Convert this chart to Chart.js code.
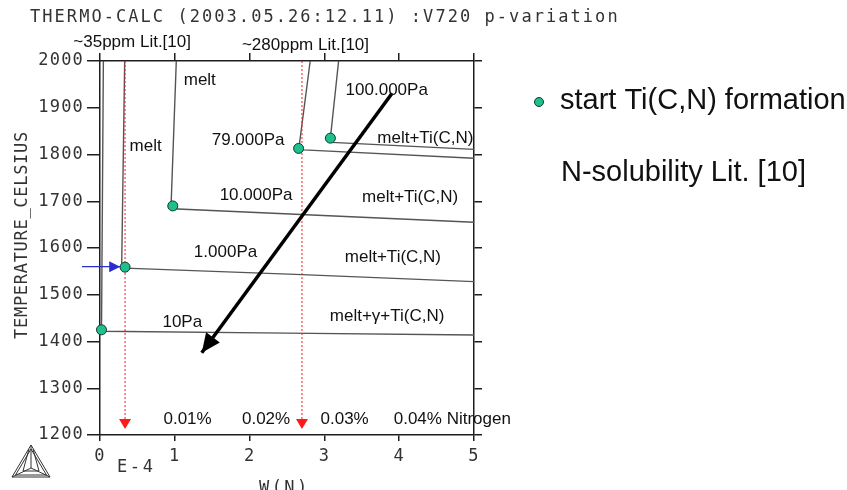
<!DOCTYPE html>
<html>
<head>
<meta charset="utf-8">
<script src="https://cdn.jsdelivr.net/npm/chart.js@4.4.0/dist/chart.umd.min.js"></script>
<style>
  html, body { margin: 0; padding: 0; background: #fff; }
  #wrap { width: 847px; height: 490px; }
</style>
</head>
<body>
<div id="wrap"><canvas id="c" width="847" height="490"></canvas></div>
<script>
// W(N) in units of 1E-4, temperature in degrees Celsius

// Phase boundaries for each nitrogen partial pressure
const p10X = [0.045, 0.02, 2.5, 5];
const p10T = [2000, 1422, 1418, 1414];
const p1000X = [0.33, 0.29, 0.335, 2.7, 5];
const p1000T = [2000, 1562, 1557, 1543, 1528];
const p10000X = [1.02, 0.95, 0.97, 5];
const p10000T = [2000, 1690, 1684, 1655];
const p79000X = [2.81, 2.66, 2.72, 5];
const p79000T = [2000, 1815, 1810, 1792];
const p100000X = [3.19, 3.08, 3.10, 5];
const p100000T = [2000, 1835, 1826, 1811];

// Start of Ti(C,N) formation
const startX = [0.02, 0.335, 0.973, 2.655, 3.08];
const startT = [1425, 1559, 1690, 1813, 1835];

// Nitrogen solubility from literature (~35 ppm and ~280 ppm)
const litX = [0.335, 2.7];
const litT = [2000, 1213];

// Direction of the pressure change
const trendX = [3.905, 1.36];
const trendT = [1931, 1376];

// Marker pointing at the 1.000Pa start temperature
const markX = [-0.24, 0.27];
const markT = [1560, 1560];

// Axis ticks
const xTicks = [0, 1, 2, 3, 4, 5];
const yTicks = [1200, 1300, 1400, 1500, 1600, 1700, 1800, 1900, 2000];

const pts = (xs, ts) => xs.map((x, i) => ({ x: x, y: ts[i] }));

const MONO = "'DejaVu Sans Mono', monospace";
const SANS = "'Liberation Sans', Arial, sans-serif";
const LINE = '#555';
const AXIS = '#1e1e1e';

// Annotations placed in data units
const regionLabels = [
  ['melt', 1.334, 1959],
  ['melt', 0.61, 1817],
  ['79.000Pa', 1.98, 1831],
  ['100.000Pa', 3.833, 1938],
  ['10.000Pa', 2.086, 1713],
  ['1.000Pa', 1.678, 1591],
  ['10Pa', 1.10, 1442],
  ['melt+Ti(C,N)', 4.35, 1835],
  ['melt+Ti(C,N)', 4.146, 1708],
  ['melt+Ti(C,N)', 3.916, 1580],
  ['melt+\u03b3+Ti(C,N)', 3.838, 1453]
];
const pctLabels = [
  ['0.01%', 1.171, 'center'],
  ['0.02%', 2.22, 'center'],
  ['0.03%', 3.27, 'center'],
  ['0.04% Nitrogen', 3.927, 'left']
];
const litLabels = [
  ['~35ppm Lit.[10]', -0.357, 2041],
  ['~280ppm Lit.[10]', 1.897, 2034]
];

function boundary(xs, ts) {
  return {
    data: pts(xs, ts), showLine: true, borderColor: LINE, borderWidth: 1.4,
    pointRadius: 0, fill: false, order: 4, clip: false
  };
}

// Mono text with wide spacing, like the plotter font
function monoText(ctx, str, x, y, size, spacing, align) {
  ctx.save();
  ctx.font = size + 'px ' + MONO;
  ctx.letterSpacing = spacing + 'px';
  ctx.fillStyle = '#333';
  ctx.textAlign = align || 'left';
  ctx.textBaseline = 'middle';
  ctx.fillText(str, x, y);
  ctx.restore();
}

const spacingPlugin = {
  id: 'spacing',
  beforeDraw(chart) { chart.ctx.letterSpacing = '1.2px'; },
  beforeDatasetsDraw(chart) { chart.ctx.letterSpacing = '0px'; }
};

const arrowPlugin = {
  id: 'arrowHeads',
  afterDatasetsDraw(chart) {
    const ctx = chart.ctx;
    chart.data.datasets.forEach((ds, i) => {
      if (!ds.head) return;
      const el = chart.getDatasetMeta(i).data;
      const a = el[el.length - 2], b = el[el.length - 1];
      const ang = Math.atan2(b.y - a.y, b.x - a.x);
      ctx.save();
      ctx.fillStyle = ds.borderColor;
      ctx.translate(b.x, b.y);
      ctx.rotate(ang);
      ctx.beginPath();
      ctx.moveTo(0, 0);
      ctx.lineTo(-ds.head.len, ds.head.half);
      ctx.lineTo(-ds.head.len, -ds.head.half);
      ctx.closePath();
      ctx.fill();
      ctx.restore();
    });
  }
};

const annotationPlugin = {
  id: 'annotations',
  afterDraw(chart) {
    const ctx = chart.ctx;
    const xs = chart.scales.x, ys = chart.scales.y;
    ctx.save();
    ctx.letterSpacing = '0px';
    ctx.fillStyle = '#111';
    ctx.textBaseline = 'middle';
    ctx.font = '17px ' + SANS;
    ctx.textAlign = 'center';
    regionLabels.forEach(([t, x, y]) => ctx.fillText(t, xs.getPixelForValue(x), ys.getPixelForValue(y)));
    pctLabels.forEach(([t, x, al]) => {
      ctx.textAlign = al;
      ctx.fillText(t, xs.getPixelForValue(x), ys.getPixelForValue(1234));
    });
    ctx.textAlign = 'left';
    litLabels.forEach(([t, x, y]) => ctx.fillText(t, xs.getPixelForValue(x), ys.getPixelForValue(y)));

    // legend
    ctx.font = '29px ' + SANS;
    ctx.textBaseline = 'alphabetic';
    ctx.fillText('start Ti(C,N) formation', 560, 109);
    ctx.fillText('N-solubility Lit. [10]', 561, 181);
    ctx.beginPath();
    ctx.arc(539, 102, 4.5, 0, Math.PI * 2);
    ctx.fillStyle = '#1fbf8e';
    ctx.fill();
    ctx.strokeStyle = '#0d3b2c';
    ctx.lineWidth = 1;
    ctx.stroke();
    ctx.restore();

    // plotter-font captions
    monoText(ctx, 'THERMO-CALC (2003.05.26:12.11) :V720 p-variation', 30, 18, 17, 2.05);
    monoText(ctx, 'E-4', 117, 468, 17, 2.6);
    monoText(ctx, 'W(N)', 259, 489, 17, 2.4);
    ctx.save();
    ctx.translate(23, 235);
    ctx.rotate(-Math.PI / 2);
    monoText(ctx, 'TEMPERATURE_CELSIUS', 0, 0, 17, 0.7, 'center');
    ctx.restore();

    // program logo
    ctx.save();
    ctx.strokeStyle = '#333';
    ctx.lineWidth = 1;
    const A = [31, 445], B = [12, 477], C = [50, 477], M = [31, 468];
    const tri = (p, q, r) => { ctx.beginPath(); ctx.moveTo(p[0], p[1]); ctx.lineTo(q[0], q[1]); ctx.lineTo(r[0], r[1]); ctx.closePath(); ctx.stroke(); };
    tri(A, B, C);
    tri([31, 449], [15.5, 475], [46.5, 475]);
    ctx.beginPath();
    ctx.moveTo(A[0], A[1]); ctx.lineTo(M[0], M[1]);
    ctx.moveTo(B[0], B[1]); ctx.lineTo(M[0], M[1]);
    ctx.moveTo(C[0], C[1]); ctx.lineTo(M[0], M[1]);
    ctx.moveTo(29, 449); ctx.lineTo(23, 471); ctx.lineTo(39, 471); ctx.lineTo(33, 449);
    ctx.stroke();
    ctx.restore();
  }
};

const tickFont = { family: MONO, size: 17 };
const plain = v => String(v);

new Chart(document.getElementById('c'), {
  type: 'scatter',
  data: {
    datasets: [
      {
        label: 'start Ti(C,N) formation', data: pts(startX, startT),
        pointRadius: 5, pointHoverRadius: 5, pointBackgroundColor: '#1fbf8e',
        pointBorderColor: '#0d3b2c', pointBorderWidth: 1, showLine: false, order: 0, clip: false
      },
      {
        label: 'pressure', data: pts(trendX, trendT), showLine: true, borderColor: '#000',
        borderWidth: 3.5, pointRadius: 0, order: 1, head: { len: 19, half: 8.5 }, clip: false
      },
      {
        label: 'marker', data: pts(markX, markT), showLine: true, borderColor: '#2c2cd2',
        borderWidth: 1.3, pointRadius: 0, order: 1, head: { len: 11, half: 5.5 }, clip: false
      },
      {
        label: '~35ppm', data: pts([litX[0], litX[0]], litT), showLine: true, borderColor: '#ff1a1a',
        borderWidth: 1, borderDash: [2, 2], pointRadius: 0, order: 2, head: { len: 10, half: 6 }, clip: false
      },
      {
        label: '~280ppm', data: pts([litX[1], litX[1]], litT), showLine: true, borderColor: '#ff1a1a',
        borderWidth: 1, borderDash: [2, 2], pointRadius: 0, order: 2, head: { len: 10, half: 6 }, clip: false
      },
      Object.assign(boundary(p10X, p10T), { label: '10Pa' }),
      Object.assign(boundary(p1000X, p1000T), { label: '1.000Pa' }),
      Object.assign(boundary(p10000X, p10000T), { label: '10.000Pa' }),
      Object.assign(boundary(p79000X, p79000T), { label: '79.000Pa' }),
      Object.assign(boundary(p100000X, p100000T), { label: '100.000Pa' })
    ]
  },
  options: {
    responsive: false,
    animation: false,
    devicePixelRatio: 1,
    layout: { padding: { left: 0, top: 53, right: 365, bottom: 0 } },
    plugins: { legend: { display: false }, tooltip: { enabled: false } },
    scales: {
      x: {
        type: 'linear', position: 'bottom', min: 0, max: 5,
        afterBuildTicks: s => { s.ticks = xTicks.map(v => ({ value: v })); },
        grid: { drawOnChartArea: false, drawTicks: true, tickLength: 6, color: AXIS, lineWidth: 1.5 },
        border: { color: AXIS, width: 1.5 },
        ticks: { color: '#333', font: tickFont, padding: 5, maxRotation: 0, autoSkip: false, callback: plain },
        afterFit: s => { s.height = 55; }
      },
      xTop: {
        type: 'linear', position: 'top', min: 0, max: 5,
        afterBuildTicks: s => { s.ticks = xTicks.map(v => ({ value: v })); },
        grid: { drawOnChartArea: false, drawTicks: true, tickLength: 8, color: AXIS, lineWidth: 1.5 },
        border: { color: AXIS, width: 1.5 },
        ticks: { display: false },
        afterFit: s => { s.height = 8; }
      },
      y: {
        type: 'linear', position: 'left', min: 1200, max: 2000,
        afterBuildTicks: s => { s.ticks = yTicks.map(v => ({ value: v })); },
        grid: { drawOnChartArea: false, drawTicks: true, tickLength: 13, color: AXIS, lineWidth: 1.5 },
        border: { color: AXIS, width: 1.5 },
        ticks: { color: '#333', font: tickFont, padding: 3, autoSkip: false, callback: plain },
        afterFit: s => { s.width = 100; }
      },
      yRight: {
        type: 'linear', position: 'right', min: 1200, max: 2000,
        afterBuildTicks: s => { s.ticks = yTicks.map(v => ({ value: v })); },
        grid: { drawOnChartArea: false, drawTicks: true, tickLength: 8, color: AXIS, lineWidth: 1.5 },
        border: { color: AXIS, width: 1.5 },
        ticks: { display: false },
        afterFit: s => { s.width = 8; }
      }
    }
  },
  plugins: [spacingPlugin, arrowPlugin, annotationPlugin]
});
</script>
</body>
</html>
